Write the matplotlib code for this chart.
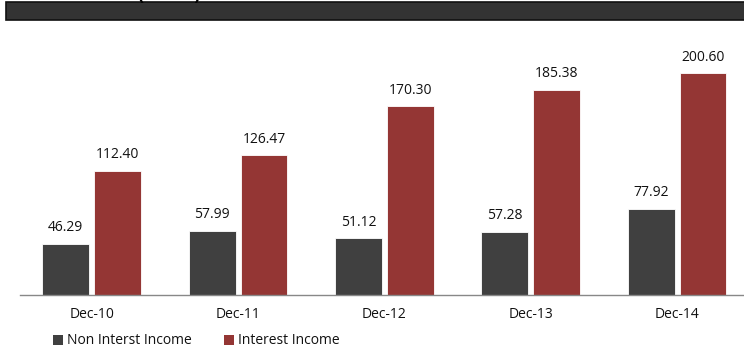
import matplotlib
matplotlib.use("Agg")
import matplotlib.pyplot as plt
from matplotlib.patches import Rectangle
import numpy as np

categories = ["Dec-10", "Dec-11", "Dec-12", "Dec-13", "Dec-14"]
non_interest = [46.29, 57.99, 51.12, 57.28, 77.92]
interest = [112.40, 126.47, 170.30, 185.38, 200.60]
series_names = ["Non Interst Income", "Interest Income"]
colors = ["#404040", "#943634"]

plt.rcParams['font.family'] = ['Open Sans', 'DejaVu Sans']

W, H = 744, 350
fig = plt.figure(figsize=(W / 100, H / 100), dpi=100)

# top dark banner
fig.patches.append(Rectangle((5.5 / W, 1 - 20 / H), 1.0, 17.5 / H, transform=fig.transFigure,
                             facecolor="#333333", edgecolor="#111111", linewidth=1.2))
# title cut off by the top edge; only the bottom of the brackets shows
fig.text(169 / W, 1 + 0.5 / H, "(Rs. Cr)", ha="center", va="baseline", fontsize=13,
         fontweight="bold", color="black")

ax_left, ax_bottom, ax_top = 20, 295, 40
ax = fig.add_axes([ax_left / W, 1 - ax_bottom / H, (W - ax_left) / W, (ax_bottom - ax_top) / H])

x = np.arange(len(categories))
bw = 0.32
off = 0.177
b1 = ax.bar(x - off, non_interest, bw, color=colors[0], edgecolor="white", linewidth=0.6)
b2 = ax.bar(x + off, interest, bw, color=colors[1], edgecolor="white", linewidth=0.6)

for bars, vals in ((b1, non_interest), (b2, interest)):
    for r, v in zip(bars, vals):
        ax.annotate(f"{v:.2f}", (r.get_x() + r.get_width() / 2, v), xytext=(0, 6),
                    textcoords="offset points", ha="center", va="bottom", fontsize=10, color="#111111")

px_per_cat = 146.5
ax.set_xlim(-0.5 + 1.5 / px_per_cat, 4.5 - (751.75 - 744) / px_per_cat + 1.5 / px_per_cat)
ax.set_ylim(0, (ax_bottom - ax_top) / 1.107)
ax.set_xticks(x)
ax.set_xticklabels(categories, fontsize=10, color="#111111")
ax.tick_params(axis="x", length=0, pad=9)
ax.set_yticks([])
for s in ("top", "right", "left"):
    ax.spines[s].set_visible(False)
ax.spines["bottom"].set_color("#888888")
ax.spines["bottom"].set_linewidth(1.0)

# legend
leg_y = 1 - 340 / H
for i, (name, col) in enumerate(zip(series_names, colors)):
    x0 = [53, 224][i]
    fig.patches.append(Rectangle((x0 / W, leg_y - 5 / H), 10 / W, 10 / H, transform=fig.transFigure,
                                 facecolor=col, edgecolor="none"))
    fig.text((x0 + 14) / W, leg_y, name, ha="left", va="center", fontsize=10, color="#111111")

fig.savefig("out.png", dpi=100)
